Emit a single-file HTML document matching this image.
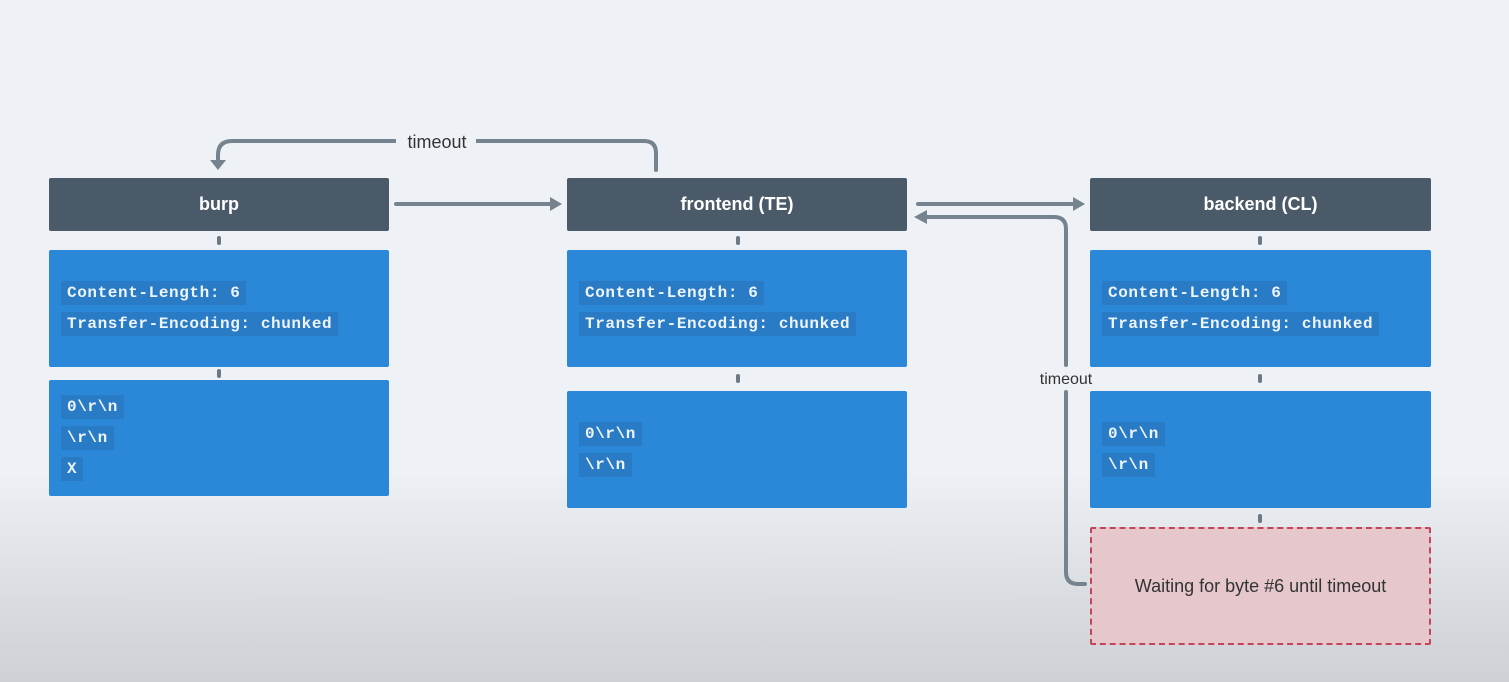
<!DOCTYPE html>
<html><head><style>
body{margin:0;width:1509px;height:682px;overflow:hidden;font-family:"Liberation Sans",sans-serif;
background:linear-gradient(#eef2f7 0,#eef2f7 470px,#dfe2e6 560px,#cdd0d4 682px);position:relative}
.h{position:absolute;height:53px;background:#4b5a68;color:#fff;font-weight:bold;font-size:18px;display:flex;align-items:center;justify-content:center;border-radius:2px}
.b{position:absolute;background:#2b87d8;border-radius:2px;box-sizing:border-box;padding-left:12px;display:flex;flex-direction:column;justify-content:center;align-items:flex-start}
.c{font-family:"Liberation Mono",monospace;font-size:16px;line-height:18px;color:#eef4fb;background:#2a7bc6;padding:3px 6px;margin:3.5px 0;letter-spacing:0.6px;font-weight:bold}
.d{position:absolute;width:4px;height:9px;background:#6b7985;border-radius:2px}
.w{position:absolute;left:1090px;top:527px;width:341px;height:118px;box-sizing:border-box;border:2px dashed #c2455a;background:#e6c8cc;display:flex;align-items:center;justify-content:center;font-size:18px;color:#333;border-radius:2px}
</style></head><body>
<svg width="1509" height="682" style="position:absolute;left:0;top:0">
<g stroke="#75838f" stroke-width="4" fill="none" stroke-linecap="round">
<path d="M656 170 V153 Q656 141 644 141 H232 Q218 141 218 155 V163"/>
<path d="M396 204 H552"/>
<path d="M918 204 H1075"/>
<path d="M1085 584 H1078 Q1066 584 1066 572 V392"/>
<path d="M1066 365 V229 Q1066 217 1054 217 H925"/>
</g>
<g fill="#75838f">
<path d="M210 160 L226 160 L218 170 Z"/>
<path d="M550 197 L562 204 L550 211 Z"/>
<path d="M1073 197 L1085 204 L1073 211 Z"/>
<path d="M927 210 L914 217 L927 224 Z"/>
</g>
<rect x="396" y="130" width="80" height="24" fill="#eef2f7"/>
<text x="437" y="148" font-size="18" text-anchor="middle" fill="#333" font-family="Liberation Sans">timeout</text>
<text x="1066" y="384" font-size="16" text-anchor="middle" fill="#333" font-family="Liberation Sans">timeout</text>
</svg>
<div class="h" style="left:49px;top:178px;width:340px">burp</div>
<div class="h" style="left:567px;top:178px;width:340px">frontend (TE)</div>
<div class="h" style="left:1090px;top:178px;width:341px">backend (CL)</div>
<div class="d" style="left:217px;top:236px"></div><div class="d" style="left:217px;top:369px"></div>
<div class="d" style="left:736px;top:236px"></div><div class="d" style="left:736px;top:374px"></div>
<div class="d" style="left:1258px;top:236px"></div><div class="d" style="left:1258px;top:374px"></div><div class="d" style="left:1258px;top:514px"></div>
<div class="b" style="left:49px;top:250px;width:340px;height:117px"><span class="c">Content-Length: 6</span><span class="c">Transfer-Encoding: chunked</span></div>
<div class="b" style="left:49px;top:380px;width:340px;height:116px"><span class="c">0\r\n</span><span class="c">\r\n</span><span class="c">X</span></div>
<div class="b" style="left:567px;top:250px;width:340px;height:117px"><span class="c">Content-Length: 6</span><span class="c">Transfer-Encoding: chunked</span></div>
<div class="b" style="left:567px;top:391px;width:340px;height:117px"><span class="c">0\r\n</span><span class="c">\r\n</span></div>
<div class="b" style="left:1090px;top:250px;width:341px;height:117px"><span class="c">Content-Length: 6</span><span class="c">Transfer-Encoding: chunked</span></div>
<div class="b" style="left:1090px;top:391px;width:341px;height:117px"><span class="c">0\r\n</span><span class="c">\r\n</span></div>
<div class="w">Waiting for byte #6 until timeout</div>
</body></html>
